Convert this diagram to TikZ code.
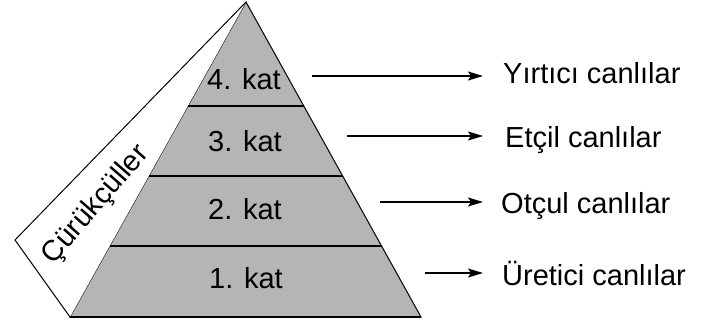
\documentclass[tikz,border=0pt]{standalone}
\usepackage{fontspec}
\setmainfont{Liberation Sans}
\usetikzlibrary{arrows.meta,calc}
\begin{document}
\begin{tikzpicture}[x=1pt,y=-1pt,
  lbl/.style={font=\fontsize{29}{32}\selectfont, inner sep=0pt},
  arr/.style={line width=1.5pt, -{Stealth[length=15pt,width=9pt,inset=3pt]}, shorten >=20pt},
  divider/.style={line width=1.8pt},
  outline/.style={line width=1pt}]
\useasboundingbox (0,0) rectangle (720,326);
\coordinate (apex) at (246,2);
\coordinate (bl) at (70,317);
\coordinate (br) at (421,317);
\coordinate (sc) at (15,240);
% pyramid
\draw[outline, fill=gray!58] (apex) -- (bl) -- (br) -- cycle;
% decomposers strip
\draw[outline, fill=white] (apex) -- (sc) -- (bl);
% dividers
\foreach \f in {0.3302,0.5524,0.7746}{
  \draw[divider] ($(apex)!\f!(bl)$) -- ($(apex)!\f!(br)$);
}
\draw[divider] (bl) -- (br);
% layer labels
\node[lbl, anchor=base] (k4) at (244,90) {4. kat};
\node[lbl, anchor=base] (k3) at (245,151) {3. kat};
\node[lbl, anchor=base] (k2) at (245,219) {2. kat};
\node[lbl, anchor=base] (k1) at (246,288) {1. kat};
% decomposers
\node[lbl, rotate=49] (cur) at (96,205) {Çürükçüller};
% right labels
\node[lbl, anchor=base west] (t4) at (503,84) {Yırtıcı canlılar};
\node[lbl, anchor=base west] (t3) at (505,147) {Etçil canlılar};
\node[lbl, anchor=base west] (t2) at (501,213) {Otçul canlılar};
\node[lbl, anchor=base west] (t1) at (502,285) {Üretici canlılar};
% arrows
\coordinate (s4) at (312,76);
\coordinate (s3) at (347,136);
\coordinate (s2) at (380,202);
\coordinate (s1) at (425,273);
\draw[arr] (s4) -- (s4 -| t4.west);
\draw[arr] (s3) -- (s3 -| t4.west);
\draw[arr] (s2) -- (s2 -| t4.west);
\draw[arr] (s1) -- (s1 -| t4.west);
\end{tikzpicture}
\end{document}
